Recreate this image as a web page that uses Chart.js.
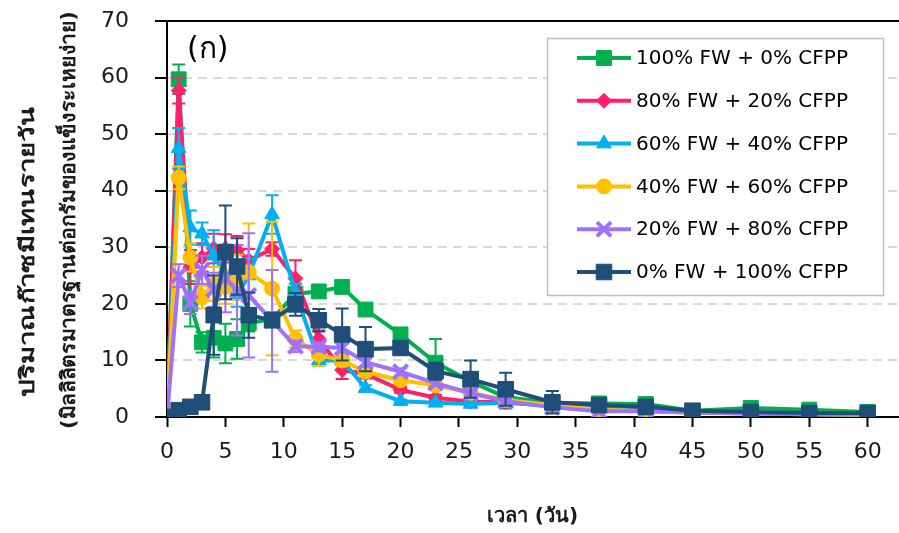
<!DOCTYPE html>
<html>
<head>
<meta charset="utf-8">
<script src="https://cdn.jsdelivr.net/npm/chart.js@4"></script>
<style>
    body { margin: 0; background: #fff; }
    #wrap { width: 899px; height: 533px; position: relative; }
</style>
</head>
<body>
<div id="wrap"><canvas id="myChart" width="899" height="533"></canvas></div>
<script>
// days of sampling
const days = [0, 1, 2, 3, 4, 5, 6, 7, 9, 11, 13, 15, 17, 20, 23, 26, 29, 33, 37, 41, 45, 50, 55, 60];

// daily methane yield per series, with standard deviation
const fw100 = [0, 59.7, 20.0, 13.2, 14.0, 13.0, 13.8, 16.6, 17.3, 21.8, 22.2, 23.0, 19.0, 14.6, 9.6, 6.3, 3.5, 2.5, 2.4, 2.3, 1.1, 1.6, 1.3, 0.9];
const fw100Err = [0, 2.6, 4.0, 1.8, 3.5, 3.5, 3.5, 1.5, 1.0, 1.8, 0.5, 0.5, 0.6, 1.0, 4.2, 0.6, 2.0, 0.5, 0.5, 0.4, 0.3, 0.3, 0.3, 0.3];

const fw80 = [0, 57.7, 26.5, 28.2, 29.8, 29.8, 29.5, 27.7, 29.7, 24.5, 13.8, 8.3, 7.6, 4.8, 3.4, 2.7, 2.6, 2.0, 1.5, 1.2, 0.9, 0.7, 0.6, 0.5];
const fw80Err = [0, 2.3, 3.0, 2.5, 2.6, 2.5, 2.5, 2.0, 1.2, 3.2, 1.5, 1.6, 0.8, 0.5, 0.5, 0.4, 0.4, 0.3, 0.3, 0.3, 0.2, 0.2, 0.2, 0.2];

const fw60 = [0, 47.5, 33.5, 32.4, 28.5, 25.0, 21.5, 25.0, 35.8, 22.0, 10.0, 10.0, 5.1, 2.8, 2.5, 2.3, 2.5, 2.0, 1.5, 1.0, 0.8, 0.6, 0.5, 0.3];
const fw60Err = [0, 3.6, 3.0, 2.0, 4.5, 3.0, 2.0, 3.0, 3.4, 1.5, 0.8, 0.8, 0.5, 0.3, 0.3, 0.3, 0.3, 0.3, 0.2, 0.2, 0.2, 0.2, 0.1, 0.1];

const fw40 = [0, 42.3, 28.2, 21.2, 23.5, 23.0, 24.7, 25.6, 22.7, 13.8, 11.0, 10.0, 8.0, 6.5, 5.6, 4.3, 3.0, 2.1, 1.3, 1.0, 0.8, 0.6, 0.5, 0.4];
const fw40Err = [0, 2.0, 2.5, 2.0, 3.0, 3.0, 4.0, 8.6, 11.8, 1.5, 2.0, 1.0, 0.8, 0.6, 0.5, 0.5, 0.4, 0.3, 0.3, 0.2, 0.2, 0.2, 0.2, 0.2];

const fw20 = [0, 25.0, 20.2, 26.0, 22.5, 24.5, 22.4, 21.5, 17.0, 12.5, 12.4, 12.2, 9.7, 8.0, 6.0, 4.2, 2.8, 1.7, 1.0, 1.0, 0.8, 0.6, 0.5, 0.5];
const fw20Err = [0, 2.0, 2.0, 2.5, 3.0, 6.0, 8.0, 11.0, 9.0, 1.0, 0.8, 0.8, 0.8, 0.6, 0.5, 0.4, 0.4, 0.3, 0.2, 0.2, 0.2, 0.2, 0.2, 0.2];

const fw0 = [0, 1.2, 1.8, 2.6, 18.0, 29.1, 26.6, 18.0, 17.1, 19.9, 17.1, 14.6, 12.0, 12.2, 8.1, 6.7, 4.9, 2.6, 2.1, 1.8, 1.1, 0.9, 0.7, 0.7];
const fw0Err = [0, 0.3, 0.3, 0.5, 7.0, 8.3, 5.0, 4.0, 1.0, 2.0, 2.0, 4.6, 3.9, 1.0, 1.5, 3.3, 2.9, 2.0, 0.3, 0.3, 0.2, 0.2, 0.2, 0.2];

const seriesLabels = [
    '100% FW + 0% CFPP',
    '80% FW + 20% CFPP',
    '60% FW + 40% CFPP',
    '40% FW + 60% CFPP',
    '20% FW + 80% CFPP',
    '0% FW + 100% CFPP'
];
const seriesValues = [fw100, fw80, fw60, fw40, fw20, fw0];
const seriesErrors = [fw100Err, fw80Err, fw60Err, fw40Err, fw20Err, fw0Err];
const seriesColors = ['#00B050', '#FF1F6B', '#00B0F0', '#FFC000', '#A070FF', '#1F4E79'];
const seriesStyles = ['rect', 'rectRot', 'triangle', 'circle', 'crossRot', 'rect'];
const seriesRadius = [10.5, 7.5, 8.5, 7.5, 10, 11];

const xTitle = 'เวลา (วัน)';
const yTitleLines = ['ปริมาณก๊าซมีเทนรายวัน', '(มิลลิลิตรมาตรฐานต่อกรัมของแข็งระเหยง่าย)'];
const panelTag = '(ก)';

const FONT = "Tahoma, 'DejaVu Sans', 'Noto Sans', sans-serif";

var datasets = seriesValues.map(function (vals, i) {
    return {
        label: seriesLabels[i],
        data: days.map((d, j) => ({ x: d, y: vals[j] })),
        borderColor: seriesColors[i],
        backgroundColor: seriesColors[i],
        borderWidth: 4,
        pointStyle: seriesStyles[i],
        pointRadius: seriesRadius[i],
        pointBorderWidth: seriesStyles[i] === 'crossRot' ? 4 : 1,
        pointBackgroundColor: seriesColors[i],
        pointBorderColor: seriesColors[i],
        tension: 0,
        // later series sit on top
        order: seriesValues.length - 1 - i
    };
});

// error bars, drawn just before each series so its own line covers them
const errorBars = {
    id: 'errorBars',
    beforeDatasetDraw(chart, args) {
        const i = args.index;
        const errs = seriesErrors[i];
        const yScale = chart.scales.y;
        const ctx = chart.ctx;
        ctx.save();
        ctx.strokeStyle = seriesColors[i];
        ctx.lineWidth = 2;
        args.meta.data.forEach(function (pt, j) {
            const e = errs[j];
            if (!e) return;
            const v = seriesValues[i][j];
            const top = yScale.getPixelForValue(v + e);
            const bot = yScale.getPixelForValue(Math.max(0, v - e));
            ctx.beginPath();
            ctx.moveTo(pt.x, top); ctx.lineTo(pt.x, bot);
            ctx.moveTo(pt.x - 6.5, top); ctx.lineTo(pt.x + 6.5, top);
            ctx.moveTo(pt.x - 6.5, bot); ctx.lineTo(pt.x + 6.5, bot);
            ctx.stroke();
        });
        ctx.restore();
    }
};

// frame line along the top, y title and panel tag
const decorations = {
    id: 'decorations',
    beforeDraw(chart) {
        const ctx = chart.ctx;
        ctx.save();
        ctx.fillStyle = '#fff';
        ctx.fillRect(0, 0, chart.width, chart.height);
        ctx.restore();
    },
    beforeDatasetsDraw(chart) {
        const ctx = chart.ctx;
        const a = chart.chartArea;
        ctx.save();
        ctx.strokeStyle = '#000';
        ctx.lineWidth = 2;
        ctx.beginPath();
        ctx.moveTo(a.left, a.top);
        ctx.lineTo(chart.width, a.top);
        ctx.stroke();

        ctx.fillStyle = '#000';
        ctx.font = '30px ' + FONT;
        ctx.textAlign = 'left';
        ctx.textBaseline = 'middle';
        ctx.fillText(panelTag, a.left + 20, 50);

        // two title lines, each stretched to its run length along the axis
        ctx.font = 'bold 20px ' + FONT;
        ctx.fillStyle = '#1a1a1a';
        ctx.textAlign = 'center';
        const spots = [[29, 252, 290], [70, 220, 418]];
        yTitleLines.forEach(function (t, k) {
            const w = ctx.measureText(t).width;
            ctx.save();
            ctx.translate(spots[k][0], spots[k][1]);
            ctx.rotate(-Math.PI / 2);
            ctx.scale(spots[k][2] / w, 1);
            ctx.fillText(t, 0, 0);
            ctx.restore();
        });
        ctx.restore();
    }
};

// boxed legend inside the plot, line + marker samples
const boxLegend = {
    id: 'boxLegend',
    afterDraw(chart) {
        const ctx = chart.ctx;
        ctx.save();
        ctx.fillStyle = '#fff';
        ctx.fillRect(547.5, 38.5, 336, 257);
        ctx.strokeStyle = '#bfbfbf';
        ctx.lineWidth = 1.5;
        ctx.strokeRect(547.5, 38.5, 336, 257);
        chart.data.datasets.forEach(function (ds, i) {
            const y = 58 + i * 42.8;
            ctx.strokeStyle = ds.borderColor;
            ctx.fillStyle = ds.borderColor;
            ctx.lineWidth = 4;
            ctx.beginPath();
            ctx.moveTo(577, y);
            ctx.lineTo(631, y);
            ctx.stroke();
            ctx.lineWidth = ds.pointBorderWidth;
            Chart.helpers.drawPoint(ctx, {
                pointStyle: ds.pointStyle,
                radius: ds.pointRadius,
                rotation: 0,
                borderWidth: ds.pointBorderWidth
            }, 604, y);
            ctx.fillStyle = '#000';
            ctx.font = '20px ' + FONT;
            ctx.textAlign = 'left';
            ctx.textBaseline = 'middle';
            ctx.fillText(ds.label, 636, y + 1);
        });
        ctx.restore();
    }
};

var canvasElement = document.getElementById('myChart');
var myChart = new Chart(canvasElement, {
    type: 'line',
    data: { datasets: datasets },
    options: {
        responsive: false,
        animation: false,
        layout: { autoPadding: false, padding: { top: 21, right: 1, left: 0, bottom: 0 } },
        plugins: {
            legend: { display: false },
            tooltip: { enabled: false }
        },
        scales: {
            x: {
                type: 'linear',
                min: 0,
                max: 62.6,
                afterBuildTicks: function (scale) {
                    scale.ticks = scale.ticks.filter(t => t.value < 61);
                },
                afterFit: function (scale) {
                    scale.height = 116;
                    scale.paddingLeft = 0;
                    scale.paddingRight = 0;
                },
                ticks: {
                    stepSize: 5,
                    includeBounds: false,
                    autoSkip: false,
                    color: '#1a1a1a',
                    padding: 12,
                    maxRotation: 0,
                    font: { size: 22, family: FONT }
                },
                grid: {
                    drawOnChartArea: false,
                    tickLength: 10,
                    tickColor: '#000',
                    tickWidth: 2
                },
                border: { color: '#000', width: 2 },
                title: {
                    display: true,
                    text: xTitle,
                    color: '#1a1a1a',
                    padding: { top: 0, bottom: 4 },
                    font: { size: 20, weight: 'bold', family: FONT }
                }
            },
            y: {
                min: 0,
                max: 70,
                afterFit: function (scale) {
                    scale.width = 167;
                    scale.paddingTop = 0;
                    scale.paddingBottom = 0;
                },
                ticks: {
                    stepSize: 10,
                    color: '#1a1a1a',
                    padding: 26,
                    font: { size: 22, family: FONT }
                },
                grid: {
                    color: ctx => (ctx.tick && ctx.tick.value > 0 && ctx.tick.value < 70) ? '#d9d9d9' : 'rgba(0,0,0,0)',
                    lineWidth: 2,
                    tickLength: 12,
                    tickColor: '#000',
                    tickWidth: 2
                },
                border: { color: '#000', width: 2, dash: [9, 6] }
            }
        }
    },
    plugins: [decorations, errorBars, boxLegend]
});
</script>
</body>
</html>
